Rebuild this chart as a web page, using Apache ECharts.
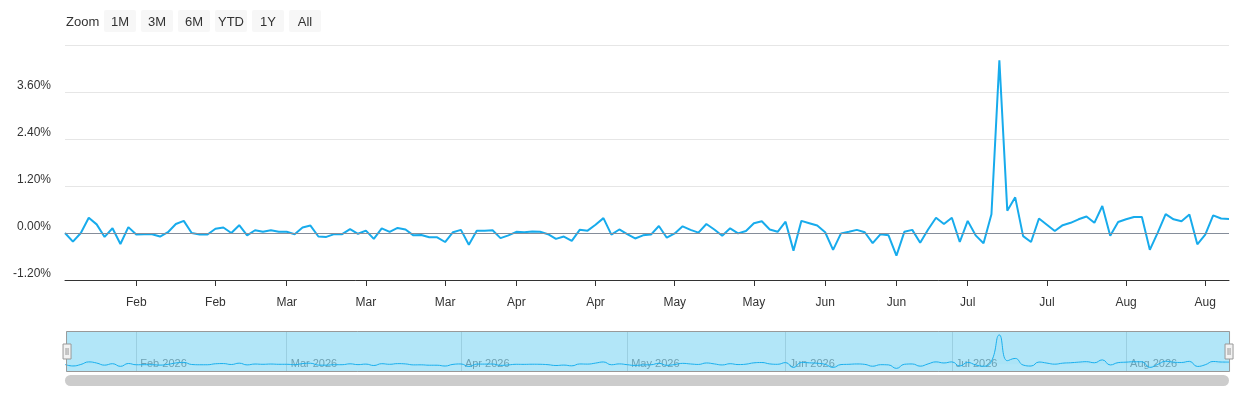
<!DOCTYPE html>
<html>
<head>
<meta charset="utf-8">
<script src="https://cdn.jsdelivr.net/npm/echarts@6/dist/echarts.min.js"></script>
<style>
  html, body { margin: 0; padding: 0; background: #fff; }
  #chart { width: 1240px; height: 400px; }
</style>
</head>
<body>
<div id="chart"></div>
<script>
// trading days: weekdays from firstDay, minus market holidays
const firstDay = '2026-01-20';
const dayCount = 148;
const holidays = ['2026-02-16', '2026-04-03', '2026-05-25', '2026-06-19', '2026-07-03'];

// daily change, %
const values = [
  0.00, -0.22, 0.00, 0.39, 0.22, -0.10, 0.12, -0.28, 0.15, -0.04,
  -0.03, -0.03, -0.09, 0.02, 0.23, 0.31, 0.00, -0.04, -0.04, 0.11,
  0.14, 0.00, 0.20, -0.06, 0.07, 0.03, 0.07, 0.03, 0.03, -0.03,
  0.14, 0.19, -0.09, -0.10, -0.03, -0.03, 0.10, -0.02, 0.06, -0.15,
  0.12, 0.03, 0.13, 0.09, -0.06, -0.05, -0.11, -0.11, -0.23, 0.02,
  0.08, -0.30, 0.06, 0.06, 0.07, -0.13, -0.06, 0.03, 0.02, 0.04,
  0.03, -0.03, -0.15, -0.09, -0.20, 0.08, 0.06, 0.21, 0.38, -0.04,
  0.09, -0.03, -0.14, -0.06, -0.04, 0.18, -0.12, -0.01, 0.17, 0.08,
  0.01, 0.23, 0.09, -0.07, 0.12, -0.01, 0.05, 0.25, 0.30, 0.09,
  0.03, 0.29, -0.45, 0.31, 0.25, 0.19, 0.02, -0.43, -0.01, 0.03,
  0.08, 0.02, -0.26, -0.03, -0.06, -0.58, 0.03, 0.08, -0.25, 0.09,
  0.39, 0.23, 0.39, -0.23, 0.31, -0.06, -0.26, 0.48, 4.41, 0.57,
  0.91, -0.08, -0.23, 0.37, 0.21, 0.05, 0.20, 0.26, 0.35, 0.42,
  0.26, 0.69, -0.07, 0.28, 0.35, 0.41, 0.41, -0.43, 0.01, 0.48,
  0.35, 0.30, 0.47, -0.29, -0.04, 0.45, 0.37, 0.36
];

// biweekly ticks on the main axis
const tickDates = [
  '2026-02-02', '2026-02-17', '2026-03-02', '2026-03-16', '2026-03-30',
  '2026-04-13', '2026-04-27', '2026-05-11', '2026-05-26', '2026-06-08',
  '2026-06-22', '2026-07-06', '2026-07-20', '2026-08-03', '2026-08-17'
];
// month starts in the navigator
const monthDates = [
  '2026-02-02', '2026-03-02', '2026-04-01', '2026-05-01',
  '2026-06-01', '2026-07-01', '2026-08-03'
];
const monthNames = ['Jan', 'Feb', 'Mar', 'Apr', 'May', 'Jun', 'Jul', 'Aug', 'Sep', 'Oct', 'Nov', 'Dec'];
const zoomButtons = ['1M', '3M', '6M', 'YTD', '1Y', 'All'];

function iso(d) {
  return d.toISOString().slice(0, 10);
}
const dates = [];
let d = new Date(firstDay + 'T00:00:00Z');
while (dates.length < dayCount) {
  const wd = d.getUTCDay();
  if (wd !== 0 && wd !== 6 && holidays.indexOf(iso(d)) < 0) dates.push(iso(d));
  d = new Date(d.getTime() + 86400000);
}

const font = 'Liberation Sans, Arial, Helvetica, sans-serif';
const lineColor = '#17abec';

// range selector buttons
const buttons = [{
  type: 'text', x: 66, y: 22,
  style: { text: 'Zoom', fill: '#333', font: '13px ' + font, verticalAlign: 'middle' }
}];
zoomButtons.forEach((b, i) => {
  const x = 104 + i * 37;
  buttons.push({
    type: 'rect', shape: { x: x, y: 10, width: 32, height: 22, r: 2 },
    style: { fill: '#f7f7f7' }
  });
  buttons.push({
    type: 'text', x: x + 16, y: 22,
    style: { text: b, fill: '#333', font: '13px ' + font, align: 'center', verticalAlign: 'middle' }
  });
});

const chart = echarts.init(document.getElementById('chart'));
chart.setOption({
  animation: false,
  textStyle: { fontFamily: font },
  graphic: buttons.concat([{
    type: 'rect', shape: { x: 65, y: 375, width: 1164, height: 11, r: 5.5 },
    style: { fill: '#cccccc' }
  }]),
  grid: [
    { left: 65, right: 11, top: 45, height: 235 },
    { left: 65, right: 11, top: 331, height: 41 }
  ],
  xAxis: [{
    type: 'category',
    data: dates,
    boundaryGap: false,
    axisLine: { onZero: false, lineStyle: { color: '#333', width: 1 } },
    axisTick: {
      length: 6,
      lineStyle: { color: '#333' },
      interval: (i, v) => tickDates.indexOf(v) >= 0
    },
    axisLabel: {
      color: '#333', fontSize: 12, margin: 17,
      interval: (i, v) => tickDates.indexOf(v) >= 0,
      formatter: v => monthNames[+v.slice(5, 7) - 1]
    },
    splitLine: { show: false }
  }, {
    type: 'category',
    gridIndex: 1,
    data: dates,
    boundaryGap: false,
    axisLine: { show: false },
    axisTick: { show: false },
    axisLabel: {
      inside: true, color: '#999', fontSize: 11, margin: 3,
      align: 'left', padding: [0, 0, 0, 4],
      interval: (i, v) => monthDates.indexOf(v) >= 0,
      formatter: v => monthNames[+v.slice(5, 7) - 1] + ' ' + v.slice(0, 4)
    },
    splitLine: {
      show: true,
      interval: (i, v) => monthDates.indexOf(v) >= 0,
      lineStyle: { color: '#dddddd', width: 1 }
    }
  }],
  yAxis: [{
    type: 'value',
    min: -1.2, max: 4.8, interval: 1.2,
    axisLine: { show: false },
    axisTick: { show: false },
    axisLabel: {
      color: '#333', fontSize: 12, margin: 14,
      verticalAlign: 'bottom', lineHeight: 12,
      formatter: v => Math.abs(v - 4.8) < 1e-6 ? '' : v.toFixed(2) + '%'
    },
    splitLine: { lineStyle: { color: '#e6e6e6', width: 1 } }
  }, {
    type: 'value',
    gridIndex: 1,
    min: -1.12, max: 5.0,
    show: false,
    splitLine: { show: false }
  }],
  dataZoom: [{
    type: 'slider',
    xAxisIndex: [0],
    left: 65, right: 11, top: 331, height: 41,
    start: 0, end: 100,
    showDataShadow: false,
    showDetail: false,
    brushSelect: false,
    backgroundColor: 'rgba(0,0,0,0)',
    borderColor: '#999',
    borderRadius: 0,
    fillerColor: 'rgba(20,180,235,0.33)',
    handleIcon: 'path://M0,0 L8,0 L8,15 L0,15 Z M3,4 L3,11 M5,4 L5,11',
    handleSize: 15,
    handleStyle: { color: '#f2f2f2', borderColor: '#999', borderWidth: 1 },
    moveHandleSize: 0,
    moveHandleStyle: { opacity: 0 },
    emphasis: {
      handleStyle: { color: '#f2f2f2', borderColor: '#999', borderWidth: 1 },
      moveHandleStyle: { opacity: 0 }
    }
  }],
  series: [{
    type: 'line',
    data: values,
    showSymbol: false,
    lineStyle: { color: lineColor, width: 2 },
    itemStyle: { color: lineColor },
    markLine: {
      silent: true,
      symbol: 'none',
      label: { show: false },
      lineStyle: { color: '#858d9a', width: 1, type: 'solid' },
      data: [{ yAxis: 0 }]
    },
    z: 3
  }, {
    type: 'line',
    xAxisIndex: 1,
    yAxisIndex: 1,
    data: values,
    smooth: true,
    showSymbol: false,
    silent: true,
    lineStyle: { color: '#1aadef', width: 1 },
    areaStyle: { color: 'rgba(26,173,239,0.05)' }
  }]
});
</script>
</body>
</html>
